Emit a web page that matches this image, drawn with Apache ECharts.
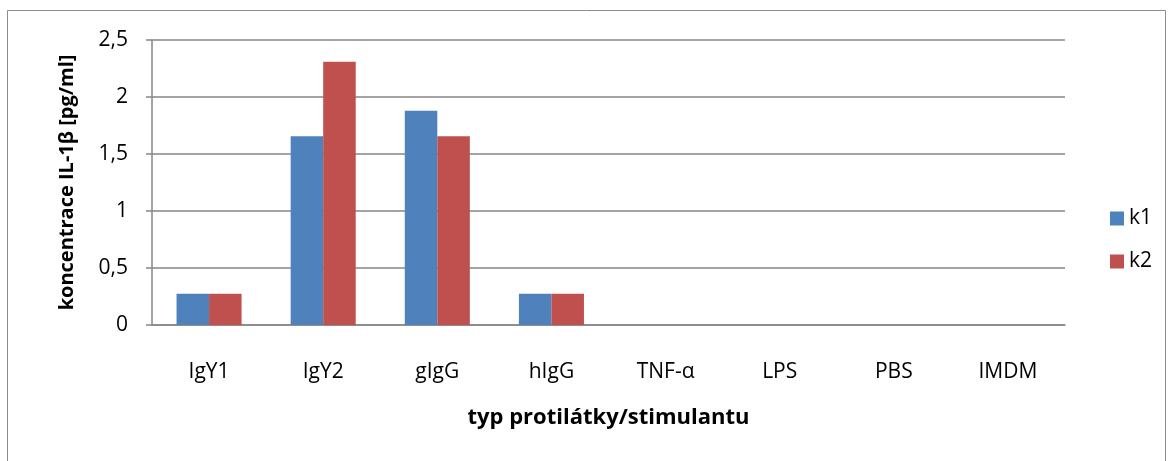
<!DOCTYPE html>
<html><head><meta charset="utf-8">
<script src="https://cdn.jsdelivr.net/npm/echarts@6/dist/echarts.min.js"></script>
<style>html,body{margin:0;padding:0;background:#fff}#c{width:1168px;height:461px}</style>
</head><body><div id="c"></div>
<script>
const categories = ['IgY1','IgY2','gIgG','hIgG','TNF-α','LPS','PBS','IMDM'];
const k1 = [0.275, 1.655, 1.88, 0.275, 0, 0, 0, 0];
const k2 = [0.275, 2.31, 1.655, 0.275, 0, 0, 0, 0];
const seriesNames = ['k1','k2'];
const yTicks = {min:0, max:2.5, interval:0.5};

const font = '"Open Sans", sans-serif';
const gray = '#868686';
const chart = echarts.init(document.getElementById('c'));
chart.setOption({
  animation:false,
  textStyle:{fontFamily:font},
  graphic:[{type:'rect',shape:{x:7.5,y:10.5,width:1158,height:460},style:{fill:'none',stroke:'#8c8c8c',lineWidth:1},silent:true}],
  grid:{left:152,right:103,top:40,bottom:136},
  legend:{orient:'vertical',left:1105,top:203,itemWidth:14,itemHeight:14,itemGap:22,icon:'rect',
    textStyle:{fontSize:21,color:'#000',fontFamily:font},data:seriesNames},
  xAxis:{type:'category',data:categories,
    axisLine:{lineStyle:{color:gray,width:1.5}},
    axisTick:{length:6,lineStyle:{color:gray,width:1.5}},
    axisLabel:{fontSize:21,color:'#000',margin:37,fontFamily:font},
    name:'typ protilátky/stimulantu',nameLocation:'middle',nameGap:82,
    nameTextStyle:{fontSize:22,fontWeight:'bold',color:'#000',fontFamily:font}},
  yAxis:{type:'value',min:yTicks.min,max:yTicks.max,interval:yTicks.interval,
    axisLine:{show:true,lineStyle:{color:gray,width:1.5}},
    axisTick:{show:true,length:6,lineStyle:{color:gray,width:1.5}},
    splitLine:{lineStyle:{color:gray,width:1.5}},
    axisLabel:{fontSize:21,color:'#000',margin:24,fontFamily:font,formatter:v=>String(v).replace('.',',')},
    name:'koncentrace IL-1β [pg/ml]',nameLocation:'middle',nameGap:75,
    nameTextStyle:{fontSize:20,fontWeight:'bold',color:'#000',fontFamily:font}},
  series:[
    {name:seriesNames[0],type:'bar',data:k1,itemStyle:{color:'#4F81BD'},barGap:'0%',barCategoryGap:'43%'},
    {name:seriesNames[1],type:'bar',data:k2,itemStyle:{color:'#C0504D'},barGap:'0%',barCategoryGap:'43%'}
  ]
});
</script></body></html>
